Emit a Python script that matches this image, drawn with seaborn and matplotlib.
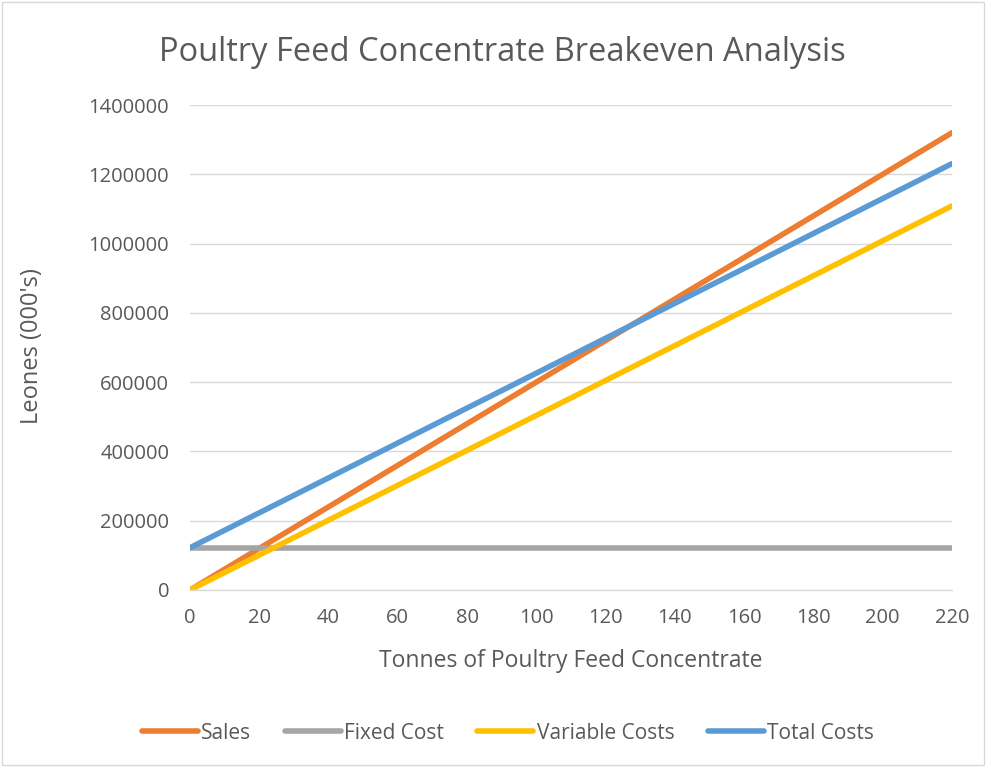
import matplotlib
matplotlib.use("Agg")
import matplotlib.pyplot as plt
from matplotlib.lines import Line2D
import seaborn as sns
import pandas as pd

tonnes = [0, 20, 40, 60, 80, 100, 120, 140, 160, 180, 200, 220]
sales = [0, 120000, 240000, 360000, 480000, 600000, 720000, 840000, 960000, 1080000, 1200000, 1320000]
fixed_cost = [122000] * 12
variable_costs = [0, 100800, 201600, 302400, 403200, 504000, 604800, 705600, 806400, 907200, 1008000, 1108800]
total_costs = [122000, 222800, 323600, 424400, 525200, 626000, 726800, 827600, 928400, 1029200, 1130000, 1230800]

series_names = ["Sales", "Fixed Cost", "Variable Costs", "Total Costs"]
colors = ["#ED7D31", "#A5A5A5", "#FFC000", "#5B9BD5"]

df = pd.concat([
    pd.DataFrame({"Tonnes": tonnes, "Value": vals, "Series": name})
    for name, vals in zip(series_names, [sales, fixed_cost, variable_costs, total_costs])
])

sns.set_theme(style="white")
plt.rcParams["font.family"] = ["Open Sans", "DejaVu Sans"]
txt = "#595959"

fig = plt.figure(figsize=(9.86, 7.67), dpi=100)
ax = fig.add_axes([0.1927, 0.2308, 0.7728, 0.6323])

sns.lineplot(data=df, x="Tonnes", y="Value", hue="Series", hue_order=series_names,
             palette=colors, linewidth=4.0, ax=ax, legend=False,
             solid_capstyle="round")

ax.set_xlim(0, 220)
ax.set_ylim(0, 1400000)
ax.set_xticks(range(0, 221, 20))
ax.set_yticks(range(0, 1400001, 200000))
ax.set_yticklabels([str(v) for v in range(0, 1400001, 200000)])
ax.tick_params(axis="both", colors=txt, labelsize=14.5, length=0)
ax.tick_params(axis="x", pad=13)
ax.tick_params(axis="y", pad=15)
ax.grid(axis="y", color="#D9D9D9", linewidth=1)
ax.set_axisbelow(True)
for s in ["top", "right", "left"]:
    ax.spines[s].set_visible(False)
ax.spines["bottom"].set_color("#D9D9D9")
ax.spines["bottom"].set_linewidth(1)
ax.set_xlabel("")
ax.set_ylabel("")
fig.text(0.579, 0.138, "Tonnes of Poultry Feed Concentrate", ha="center", va="center",
         color=txt, fontsize=16.5)
fig.text(0.0325, 0.549, "Leones (000's)", ha="center", va="center", rotation=90,
         color=txt, fontsize=17)
fig.text(0.510, 0.931, "Poultry Feed Concentrate Breakeven Analysis", ha="center", va="center",
         color=txt, fontsize=23.5)

handles = [Line2D([0], [0], color=c, linewidth=4.0, solid_capstyle="round") for c in colors]
fig.legend(handles, series_names, loc="center", bbox_to_anchor=(0.515, 0.044), ncol=4,
           frameon=False, fontsize=15, labelcolor=txt, handlelength=2.7, handletextpad=0.15,
           columnspacing=1.6)

border = plt.Rectangle((0.002, 0.002), 0.996, 0.996, transform=fig.transFigure,
                       fill=False, edgecolor="#D9D9D9", linewidth=1)
fig.add_artist(border)

fig.savefig("out.png", dpi=100)
